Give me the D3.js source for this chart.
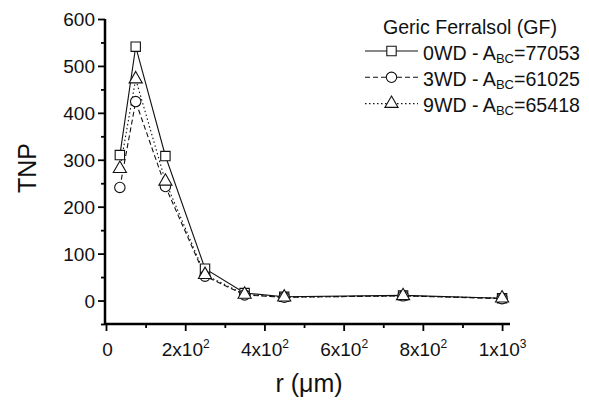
<!DOCTYPE html>
<html>
<head>
<meta charset="utf-8">
<script src="https://cdn.jsdelivr.net/npm/d3@7"></script>
<style>
  body { margin: 0; background: #fff; }
  svg { font-family: "Liberation Sans", Arial, sans-serif; }
</style>
</head>
<body>
<svg id="chart" width="589" height="401"></svg>
<script>
// data
const radius = [35, 75, 150, 250, 350, 450, 750, 1000];
const tnp_0WD = [310, 541, 308, 68, 16, 8, 11, 5];
const tnp_3WD = [241, 424, 243, 52, 12, 7, 10, 4];
const tnp_9WD = [281, 472, 254, 55, 13, 7, 10, 5];
const seriesNames = ["0WD", "3WD", "9WD"];
const seriesAbc = ["77053", "61025", "65418"];
const xTicks = [0, 200, 400, 600, 800, 1000];
const yTicks = [0, 100, 200, 300, 400, 500, 600];

const svg = d3.select("#chart");

const x_scale = d3.scaleLinear().domain([0, 1020]).range([106, 510]);
const y_scale = d3.scaleLinear().domain([-50, 600]).range([324, 19]);

const series = [
    { name: seriesNames[0], abc: seriesAbc[0], values: tnp_0WD, dash: null, symbol: d3.symbolSquare, size: 88 },
    { name: seriesNames[1], abc: seriesAbc[1], values: tnp_3WD, dash: "5,3", symbol: d3.symbolCircle, size: 85 },
    { name: seriesNames[2], abc: seriesAbc[2], values: tnp_9WD, dash: "1.5,2.5", symbol: d3.symbolTriangle, size: 75 }
];

// axes
const xAxis = svg.append("g").attr("transform", `translate(0, ${y_scale(-50)})`);
xAxis.call(d3.axisBottom(x_scale).tickValues(d3.range(0, 1001, 100)).tickSize(6).tickFormat(""));
xAxis.selectAll(".tick line").attr("y2", (d) => (d % 200 === 0 ? 7 : 4)).attr("stroke-width", 1.8);
xAxis.select(".domain").attr("stroke-width", 2.5).attr("d", `M105,0H510`);

xAxis.selectAll(".tick")
    .filter((d) => xTicks.includes(d))
    .append("text")
    .attr("fill", "#111")
    .attr("y", 32)
    .attr("font-size", 19)
    .attr("text-anchor", "middle")
    .each(function (d) {
        const t = d3.select(this);
        if (d === 0) { t.attr("x", 1).text("0"); return; }
        const exp = Math.floor(Math.log10(d));
        const mant = d / Math.pow(10, exp);
        t.append("tspan").text(mant + "x10");
        t.append("tspan").attr("font-size", 12).attr("dy", -8).text(exp);
    });

const yAxis = svg.append("g").attr("transform", `translate(${x_scale(0) - 1}, 0)`);
yAxis.call(d3.axisLeft(y_scale).tickValues(d3.range(-50, 601, 50)).tickSize(6).tickFormat(""));
yAxis.selectAll(".tick line").attr("x2", (d) => (d % 100 === 0 ? -7 : -4)).attr("stroke-width", 1.8);
yAxis.select(".domain").attr("stroke-width", 2.5).attr("d", `M0,${y_scale(600)}V${y_scale(-50) + 1}`);
yAxis.selectAll(".tick")
    .filter((d) => yTicks.includes(d))
    .append("text")
    .attr("fill", "#111")
    .attr("x", -10)
    .attr("dy", "0.36em")
    .attr("font-size", 19)
    .attr("text-anchor", "end")
    .text((d) => d);

// axis titles
svg.append("text")
    .attr("transform", `translate(36, 168) rotate(-90)`)
    .attr("text-anchor", "middle")
    .attr("font-size", 25)
    .attr("fill", "#111")
    .text("TNP");

svg.append("text")
    .attr("x", 309)
    .attr("y", 392)
    .attr("text-anchor", "middle")
    .attr("font-size", 25)
    .attr("fill", "#111")
    .text("r (\u03bcm)");

// lines and markers
const line = d3.line()
    .x((d, i) => x_scale(radius[i]))
    .y((d) => y_scale(d));

series.forEach((s) => {
    svg.append("path")
        .datum(s.values)
        .attr("fill", "none")
        .attr("stroke", "#111")
        .attr("stroke-width", 1.1)
        .attr("stroke-dasharray", s.dash)
        .attr("d", line);
});

series.forEach((s) => {
    svg.selectAll(null)
        .data(s.values)
        .enter()
        .append("path")
        .attr("transform", (d, i) => `translate(${x_scale(radius[i])}, ${y_scale(d)})`)
        .attr("d", d3.symbol().type(s.symbol).size(s.size))
        .attr("fill", "#fff")
        .attr("stroke", "#111")
        .attr("stroke-width", 1.1);
});

// legend
const legend = svg.append("g");
legend.append("text")
    .attr("x", 470)
    .attr("y", 34)
    .attr("text-anchor", "middle")
    .attr("font-size", 19.6)
    .attr("fill", "#111")
    .text("Geric Ferralsol (GF)");

series.forEach((s, i) => {
    const ly = 51 + i * 26.3;
    legend.append("line")
        .attr("x1", 365).attr("x2", 418)
        .attr("y1", ly).attr("y2", ly)
        .attr("stroke", "#111")
        .attr("stroke-width", 1.1)
        .attr("stroke-dasharray", s.dash);
    legend.append("path")
        .attr("transform", `translate(391.5, ${ly})`)
        .attr("d", d3.symbol().type(s.symbol).size(s.size))
        .attr("fill", "#fff")
        .attr("stroke", "#111")
        .attr("stroke-width", 1.1);
    const t = legend.append("text")
        .attr("x", 423)
        .attr("y", ly + 8.5)
        .attr("font-size", 19.6)
        .attr("fill", "#111");
    t.append("tspan").text(s.name + " - A");
    t.append("tspan").attr("font-size", 13).attr("dy", 3).text("BC");
    t.append("tspan").attr("dy", -3).text("=" + s.abc);
});
</script>
</body>
</html>
